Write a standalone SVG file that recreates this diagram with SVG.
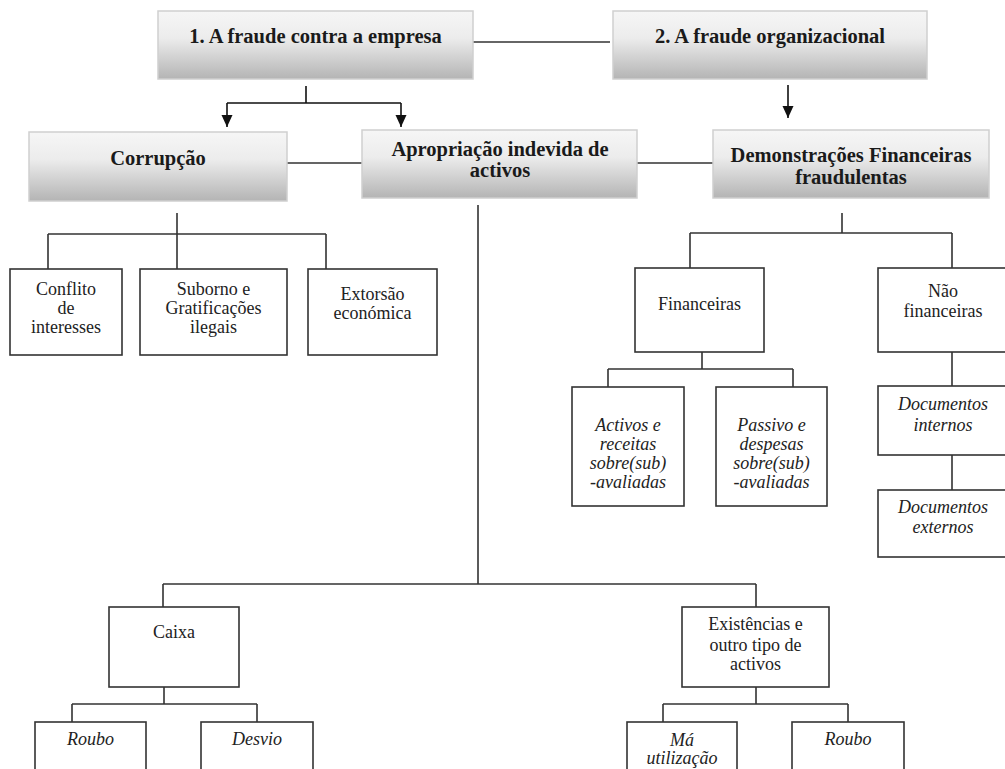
<svg xmlns="http://www.w3.org/2000/svg" width="1005" height="769" viewBox="0 0 1005 769">
<defs>
<linearGradient id="hg" x1="0" y1="0" x2="0" y2="1">
<stop offset="0" stop-color="#f6f6f6"/>
<stop offset="0.4" stop-color="#ececec"/>
<stop offset="1" stop-color="#b4b4b4"/>
</linearGradient>
<marker id="ah" markerUnits="userSpaceOnUse" markerWidth="12" markerHeight="12" refX="12" refY="6" orient="auto" viewBox="0 0 12 12">
<path d="M0,0.5 L12,6 L0,11.5 Z" fill="#111"/>
</marker>
</defs>
<style>
.hb{fill:url(#hg);stroke:#cfcfcf;stroke-width:1.5}
.bx{fill:#fff;stroke:#333;stroke-width:1.6}
.ht{font-family:'Liberation Serif','Times New Roman',Times,'DejaVu Serif',serif;font-weight:bold;font-size:20.5px;fill:#1a1a1a;text-anchor:middle}
.t{font-family:'Liberation Serif','Times New Roman',Times,'DejaVu Serif',serif;font-size:18px;fill:#222;text-anchor:middle}
.i{font-style:italic}
.c{fill:none;stroke:#333;stroke-width:1.6}
.ca{fill:none;stroke:#111;stroke-width:1.6}
</style>
<rect width="1005" height="769" fill="#fff"/>
<g id="connectors">
<path class="c" d="M473,42 H610"/>
<path class="ca" d="M306,86 V103 M227,103 H401"/>
<path class="ca" d="M227,103 V127" marker-end="url(#ah)"/>
<path class="ca" d="M401,103 V127" marker-end="url(#ah)"/>
<path class="ca" d="M788,85 V118" marker-end="url(#ah)"/>
<path class="c" d="M287,163 H362 M637,163 H713"/>
<path class="c" d="M177,213 V269 M48,234 H326 M48,234 V269 M326,234 V269"/>
<path class="c" d="M842,213 V233 M690,233 H952 M690,233 V268 M952,233 V268"/>
<path class="c" d="M702,352 V369 M608,369 H793 M608,369 V387 M793,369 V387"/>
<path class="c" d="M952,352 V386 M952,455 V490"/>
<path class="c" d="M478,205 V584 M163,584 H756 M163,584 V607 M756,584 V607"/>
<path class="c" d="M164,687 V704 M72,704 H257 M72,704 V722 M257,704 V722"/>
<path class="c" d="M756,687 V704 M663,704 H848 M663,704 V722 M848,704 V722"/>
</g>
<g id="n1"><rect class="hb" x="158" y="11" width="315" height="68"/><text class="ht" x="315.5" y="43">1. A fraude contra a empresa</text></g>
<g id="n2"><rect class="hb" x="613" y="11" width="314" height="68"/><text class="ht" x="770" y="43">2. A fraude organizacional</text></g>
<g id="corrupcao"><rect class="hb" x="29" y="132" width="258" height="69"/><text class="ht" x="158" y="165">Corrupção</text></g>
<g id="apropriacao"><rect class="hb" x="362" y="130" width="275" height="68"/><text class="ht" x="500" y="156">Apropriação indevida de</text><text class="ht" x="500" y="177">activos</text></g>
<g id="demonstracoes"><rect class="hb" x="713" y="130" width="276" height="68"/><text class="ht" x="851" y="162">Demonstrações Financeiras</text><text class="ht" x="851" y="184">fraudulentas</text></g>
<g id="conflito"><rect class="bx" x="10" y="269" width="112" height="86"/><text class="t" x="66" y="295">Conflito</text><text class="t" x="66" y="314">de</text><text class="t" x="66" y="333">interesses</text></g>
<g id="suborno"><rect class="bx" x="140" y="269" width="147" height="86"/><text class="t" x="213.5" y="295">Suborno e</text><text class="t" x="213.5" y="314">Gratificações</text><text class="t" x="213.5" y="333">ilegais</text></g>
<g id="extorsao"><rect class="bx" x="308" y="269" width="129" height="86"/><text class="t" x="372.5" y="300">Extorsão</text><text class="t" x="372.5" y="319">económica</text></g>
<g id="financeiras"><rect class="bx" x="635" y="268" width="129" height="84"/><text class="t" x="699.5" y="310">Financeiras</text></g>
<g id="naofinanceiras"><rect class="bx" x="878" y="268" width="130" height="84"/><text class="t" x="943" y="297">Não</text><text class="t" x="943" y="317">financeiras</text></g>
<g id="activos"><rect class="bx" x="572" y="387" width="112" height="119"/><text class="t i" x="628" y="431">Activos e</text><text class="t i" x="628" y="450">receitas</text><text class="t i" x="628" y="469">sobre(sub)</text><text class="t i" x="628" y="488">-avaliadas</text></g>
<g id="passivo"><rect class="bx" x="716" y="387" width="111" height="119"/><text class="t i" x="771.5" y="431">Passivo e</text><text class="t i" x="771.5" y="450">despesas</text><text class="t i" x="771.5" y="469">sobre(sub)</text><text class="t i" x="771.5" y="488">-avaliadas</text></g>
<g id="docinternos"><rect class="bx" x="878" y="386" width="130" height="69"/><text class="t i" x="943" y="410">Documentos</text><text class="t i" x="943" y="431">internos</text></g>
<g id="docexternos"><rect class="bx" x="878" y="490" width="130" height="67"/><text class="t i" x="943" y="513">Documentos</text><text class="t i" x="943" y="533">externos</text></g>
<g id="caixa"><rect class="bx" x="109" y="607" width="130" height="80"/><text class="t" x="174" y="638">Caixa</text></g>
<g id="existencias"><rect class="bx" x="682" y="607" width="147" height="80"/><text class="t" x="755.5" y="630">Existências e</text><text class="t" x="755.5" y="651">outro tipo de</text><text class="t" x="755.5" y="670">activos</text></g>
<g id="roubo1"><rect class="bx" x="35" y="722" width="111" height="60"/><text class="t i" x="90.5" y="745">Roubo</text></g>
<g id="desvio"><rect class="bx" x="201" y="722" width="112" height="60"/><text class="t i" x="257" y="745">Desvio</text></g>
<g id="mautilizacao"><rect class="bx" x="627" y="722" width="110" height="60"/><text class="t i" x="682" y="746">Má</text><text class="t i" x="682" y="764">utilização</text></g>
<g id="roubo2"><rect class="bx" x="792" y="722" width="112" height="60"/><text class="t i" x="848" y="745">Roubo</text></g>
</svg>
